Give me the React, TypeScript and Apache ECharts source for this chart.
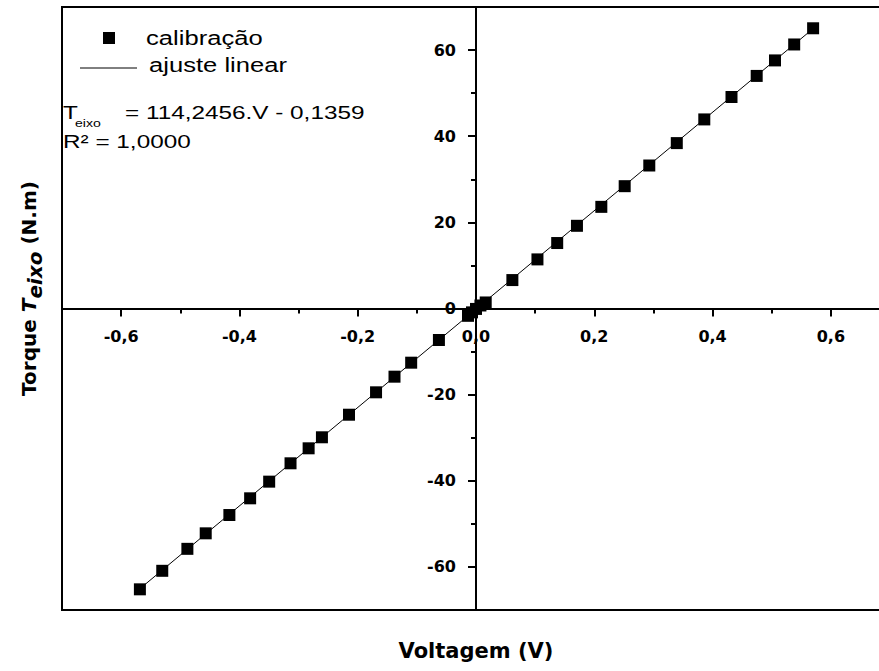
import React, { useEffect, useRef } from "react";
import * as echarts from "echarts";

// ---- data ----
const calV = [
  -0.5683, -0.5305, -0.488, -0.457, -0.417, -0.3819, -0.3497, -0.3136, -0.283,
  -0.2605, -0.2147, -0.169, -0.1378, -0.1096, -0.0627, -0.0135, -0.0068, 0.0,
  0.0075, 0.0164, 0.0615, 0.1039, 0.1373, 0.1707, 0.2119, 0.2514, 0.293, 0.3395,
  0.386, 0.432, 0.4746, 0.5056, 0.538, 0.57,
];
const calT = [
  -65.2, -60.9, -55.8, -52.2, -47.95, -44.07, -40.2, -35.94, -32.46, -29.9,
  -24.66, -19.46, -15.83, -12.58, -7.31, -1.7, -0.9, -0.1, 0.7, 1.4, 6.6, 11.4,
  15.2, 19.2, 23.6, 28.4, 33.2, 38.4, 43.9, 49.1, 54.0, 57.6, 61.3, 65.06,
];
const fitV = [-0.5683, 0.57];
const fitT = [-65.06, 64.98];

const xRange = [-0.7, 0.7];
const yRange = [-70, 70];
const xMajorTicks = [-0.6, -0.4, -0.2, 0, 0.2, 0.4, 0.6];
const xMinorTicks = [-0.5, -0.3, -0.1, 0.1, 0.3, 0.5];
const yMajorTicks = [-60, -40, -20, 0, 20, 40, 60];
const yMinorTicks = [-50, -30, -10, 10, 30, 50];

const seriesNames = ["calibração", "ajuste linear"];
const eqSymbol = "T";
const eqSub = "eixo";
const eqRest = "= 114,2456.V - 0,1359";
const r2Text = "R² = 1,0000";
const xTitle = "Voltagem (V)";

const AX = "DejaVu Sans";
const LEG = "Liberation Sans";
const SX = 1.28;

// grid geometry (layout only)
const GL = 62, GT = 7, GR = -11, GB = 61, W = 879, H = 671;

export default function App() {
  const ref = useRef<HTMLDivElement>(null);
  useEffect(() => {
    if (!ref.current) return;
    const chart = echarts.init(ref.current, null, { renderer: "svg" });
    const gw = W - GL - GR;
    const gh = H - GT - GB;
    // axes cross at zero: shift the axes inward from the grid edges
    const zeroX = GL + ((0 - xRange[0]) / (xRange[1] - xRange[0])) * gw;
    const zeroY = GT + ((yRange[1] - 0) / (yRange[1] - yRange[0])) * gh;
    const xOffset = -(GT + gh - zeroY);
    const yOffset = -(zeroX - GL);

    const tickFont = {
      fontFamily: AX,
      fontWeight: "bold" as const,
      fontSize: 16,
      color: "#000",
    };
    const legText = (text: string, x: number, y: number, size = 19) => ({
      type: "text",
      x,
      y,
      scaleX: SX,
      z: 10,
      style: {
        text,
        fontFamily: LEG,
        fontSize: size,
        fill: "#000",
        verticalAlign: "middle",
        textVerticalAlign: "middle",
        align: "left",
      },
    });
    const axisLine = { show: true, onZero: false, lineStyle: { color: "#000", width: 2 } };
    const titleTok = (italic: boolean, padTop = 0) => ({
      fontFamily: AX,
      fontWeight: "bold",
      fontStyle: italic ? "italic" : "normal",
      fontSize: 20,
      lineHeight: 23,
      verticalAlign: "middle",
      padding: [padTop, 0, 0, 0],
      color: "#000",
    });
    const option: any = {
      animation: false,
      backgroundColor: "#fff",
      grid: {
        left: GL,
        top: GT,
        right: GR,
        bottom: GB,
        show: true,
        borderColor: "#000",
        borderWidth: 2,
        containLabel: false,
        outerBoundsMode: "none",
      },
      xAxis: [
        {
          type: "value",
          min: xRange[0],
          max: xRange[1],
          position: "bottom",
          offset: xOffset,
          axisLine,
          axisTick: { show: true, customValues: xMajorTicks, length: 8, lineStyle: { color: "#000", width: 2 } },
          axisLabel: {
            customValues: xMajorTicks,
            margin: 20,
            formatter: (v: number) => v.toFixed(1).replace(".", ","),
            ...tickFont,
          },
          splitLine: { show: false },
          name: xTitle,
          nameLocation: "middle",
          nameGap: 332,
          nameTextStyle: { fontFamily: AX, fontWeight: "bold", fontSize: 21, color: "#000" },
        },
        {
          type: "value",
          min: xRange[0],
          max: xRange[1],
          position: "bottom",
          offset: xOffset,
          axisLine,
          axisTick: { show: true, customValues: xMinorTicks, length: 5, lineStyle: { color: "#000", width: 2 } },
          axisLabel: { show: false },
          splitLine: { show: false },
        },
      ],
      yAxis: [
        {
          type: "value",
          min: yRange[0],
          max: yRange[1],
          position: "left",
          offset: yOffset,
          axisLine,
          axisTick: { show: true, customValues: yMajorTicks, length: 8, lineStyle: { color: "#000", width: 2 } },
          axisLabel: {
            customValues: yMajorTicks,
            margin: 20,
            formatter: (v: number) => String(v),
            ...tickFont,
          },
          splitLine: { show: false },
          name: "{a|Torque }{b|T}{c|eixo}{a| (N.m)}",
          nameLocation: "middle",
          nameRotate: 90,
          nameGap: 436,
          nameTextStyle: {
            color: "#000",
            padding: [0, 0, 0, 40],
            rich: {
              a: titleTok(false),
              b: titleTok(true),
              c: titleTok(true, 12),
            },
          },
        },
        {
          type: "value",
          min: yRange[0],
          max: yRange[1],
          position: "left",
          offset: yOffset,
          axisLine,
          axisTick: { show: true, customValues: yMinorTicks, length: 5, lineStyle: { color: "#000", width: 2 } },
          axisLabel: { show: false },
          splitLine: { show: false },
        },
      ],
      series: [
        {
          type: "line",
          name: seriesNames[1],
          xAxisIndex: 0,
          yAxisIndex: 0,
          data: fitV.map((v, i) => [v, fitT[i]]),
          symbol: "none",
          lineStyle: { color: "#000", width: 1 },
          z: 2,
        },
        {
          type: "scatter",
          name: seriesNames[0],
          xAxisIndex: 0,
          yAxisIndex: 0,
          data: calV.map((v, i) => [v, calT[i]]),
          symbol: "rect",
          symbolSize: 12,
          itemStyle: { color: "#000", opacity: 1 },
          z: 3,
        },
      ],
      graphic: [
        { type: "rect", z: 10, shape: { x: 103, y: 32, width: 12, height: 12 }, style: { fill: "#000" } },
        legText(seriesNames[0], 146, 38.5, 20),
        { type: "line", z: 10, shape: { x1: 80, y1: 68, x2: 137, y2: 68 }, style: { stroke: "#000", lineWidth: 1 } },
        legText(seriesNames[1], 149, 65, 20),
        legText(eqSymbol, 63, 112.5),
        legText(eqSub, 75, 124, 11),
        legText(eqRest, 125, 112.5),
        legText(r2Text, 63, 141.5),
      ],
    };
    chart.setOption(option);
    return () => chart.dispose();
  }, []);
  return (
    <div
      ref={ref}
      style={{ position: "absolute", left: 0, top: 0, width: W, height: H }}
    />
  );
}
